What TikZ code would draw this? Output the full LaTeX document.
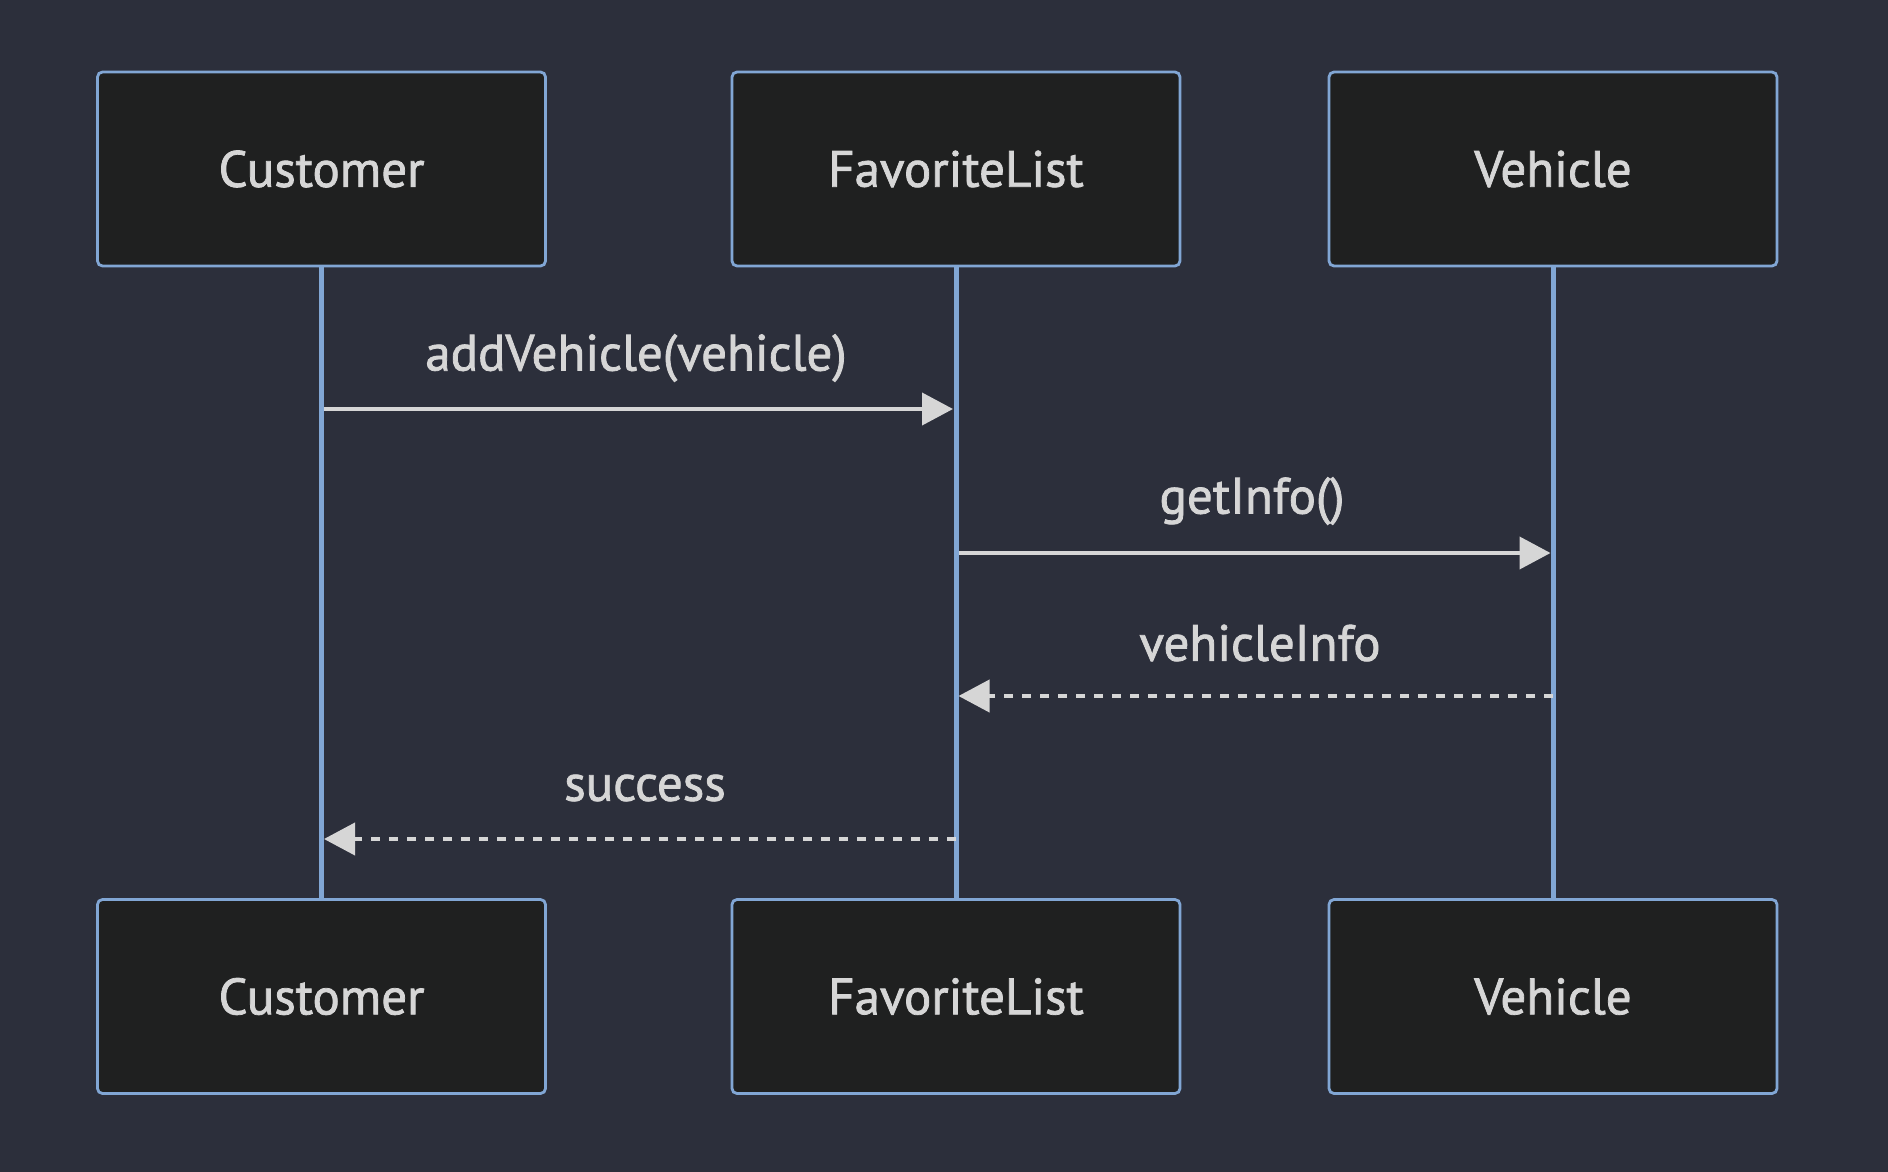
\documentclass[tikz,border=0pt]{standalone}
\usepackage{fontspec}
\setmainfont{PT Sans}
\newfontfamily\lblfont{PT Sans}[BoldFont={PT Sans},BoldFeatures={FakeBold=1.5}]
\usetikzlibrary{arrows.meta}
\definecolor{bg}{RGB}{44,47,59}
\definecolor{boxfill}{RGB}{31,32,32}
\definecolor{boxline}{RGB}{129,166,212}
\definecolor{txt}{RGB}{214,214,214}
\begin{document}
\begin{tikzpicture}[x=1pt,y=-1pt,
  actor/.style={draw=boxline, line width=2.8pt, fill=boxfill, rounded corners=5pt,
    minimum width=448pt, minimum height=194pt, inner sep=0pt, text=txt,
    font=\lblfont\bfseries\fontsize{51}{54}\selectfont},
  life/.style={draw=boxline, line width=5pt},
  msg/.style={draw=txt, line width=4pt, -{Triangle[length=31pt,width=32pt]}},
  reply/.style={msg, dash pattern=on 9pt off 9pt},
  lbl/.style={text=txt, font=\lblfont\bfseries\fontsize{51}{54}\selectfont, inner sep=0pt}]
\fill[bg] (0,0) rectangle (1888,1172);
\useasboundingbox (0,0) rectangle (1888,1172);
% lifelines
\coordinate (cl) at (321.5,266);
\coordinate (fl) at (956,266);
\coordinate (vl) at (1553,266);
\coordinate (cb) at (321.5,899);
\coordinate (fb) at (956,899);
\coordinate (vb) at (1553,899);
\draw[life] (cl) -- (cb);
\draw[life] (fl) -- (fb);
\draw[life] (vl) -- (vb);
% actors
\node[actor] (c1) at (321.5,169) {Customer};
\node[actor] (f1) at (956,169) {FavoriteList};
\node[actor] (v1) at (1553,169) {Vehicle};
\node[actor] (c2) at (321.5,996.5) {Customer};
\node[actor] (f2) at (956,996.5) {FavoriteList};
\node[actor] (v2) at (1553,996.5) {Vehicle};
% message anchors
\coordinate (m1s) at (324,409);
\coordinate (m1e) at (953,409);
\coordinate (m2s) at (958.5,553);
\coordinate (m2e) at (1550.5,553);
\coordinate (m3s) at (1553,696);
\coordinate (m3e) at (958.5,696);
\coordinate (m4s) at (956,839);
\coordinate (m4e) at (324,839);
\draw[msg] (m1s) -- (m1e);
\draw[msg] (m2s) -- (m2e);
\draw[reply] (m3s) -- (m3e);
\draw[reply] (m4s) -- (m4e);
\node[lbl] (l1) at (636,358) {addVehicle(vehicle)};
\node[lbl] (l2) at (1252,501) {getInfo()};
\node[lbl] (l3) at (1260,643) {vehicleInfo};
\node[lbl] (l4) at (645,788) {success};
\end{tikzpicture}
\end{document}
